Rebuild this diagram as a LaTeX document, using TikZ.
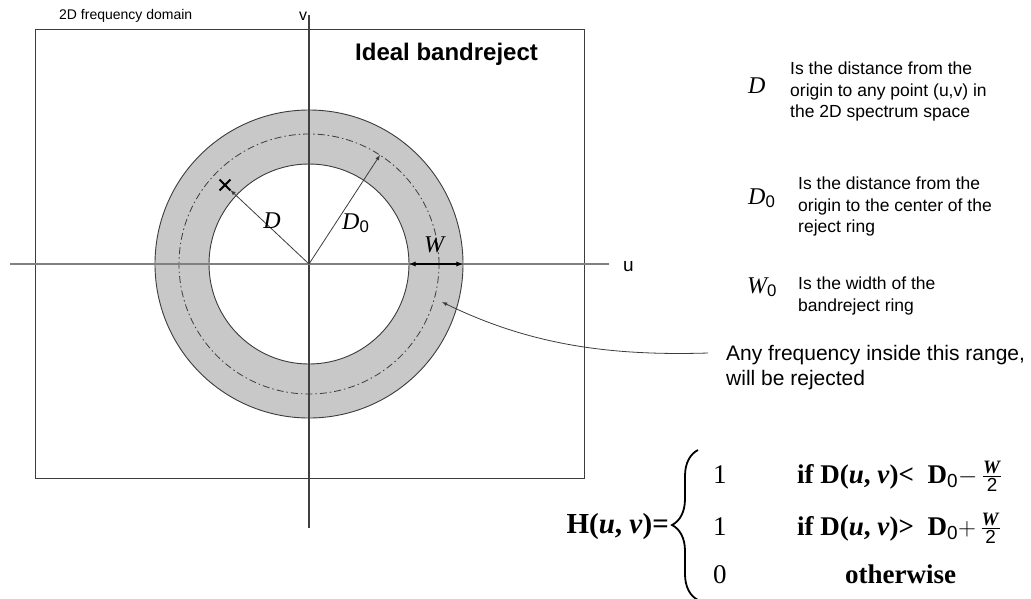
\documentclass[tikz,border=0pt]{standalone}
\usepackage{amsmath}
\usepackage{fontspec}
\setmainfont{Liberation Serif}
\setsansfont{Liberation Sans}
\usetikzlibrary{positioning,decorations.pathreplacing,shapes.misc}
\definecolor{ringgray}{RGB}{200,200,200}
\definecolor{linegray}{RGB}{60,60,60}
\newcommand{\subzero}{\textsubscript{\sffamily\upshape\mdseries 0}}
\newcommand{\halfw}{$\frac{\text{\textit{W}}}{\text{\sffamily\mdseries 2}}$}

\begin{document}
\begin{tikzpicture}[x=1pt, y=-1pt,
    caption/.style={font=\sffamily\fontsize{14}{17}\selectfont, inner sep=0pt},
    legend/.style={font=\sffamily\fontsize{17.5}{21.5}\selectfont, align=left, inner sep=0pt},
    note/.style={font=\sffamily\fontsize{21}{25.5}\selectfont, align=left, inner sep=0pt},
    symbol/.style={font=\fontsize{24}{28}\selectfont\itshape, inner sep=0pt},
    formula/.style={font=\fontsize{27}{31}\selectfont\bfseries, inner sep=0pt},
    frame/.style={draw=linegray, line width=1pt},
    ringline/.style={draw=linegray, line width=0.9pt},
    pointer/.style={draw=linegray, line width=0.8pt, -latex}
]
    \useasboundingbox (0,0) rectangle (1031,598);

    \draw[frame] (35,29) rectangle (584,478);
    \node[caption, anchor=base west] (domain) at (59,19) {2D frequency domain};
    \node[anchor=base west, inner sep=0pt, font=\sffamily\bfseries\fontsize{24}{28}\selectfont]
        (title) at (355,60) {Ideal bandreject};

    \coordinate (O) at (309,264);
    \fill[ringgray, even odd rule] (O) circle[radius=154pt] (O) circle[radius=100pt];
    \draw[ringline] (O) circle[radius=154pt];
    \draw[ringline] (O) circle[radius=100pt];
    \draw[draw=linegray, line width=0.8pt, dash pattern=on 7pt off 3pt on 1.5pt off 3pt]
        (O) circle[radius=130pt];

    \coordinate (vtop) at (309,15);
    \coordinate (vbot) at (309,528);
    \coordinate (uleft) at (10,264);
    \coordinate (uright) at (609,264);
    \draw[black!75, line width=1.1pt] (vtop) -- (vbot);
    \draw[black!50, line width=1.6pt] (uleft) -- (uright);
    \node[caption, anchor=base, font=\sffamily\fontsize{16}{19}\selectfont] (vlabel) at (303,20) {v};
    \node[caption, anchor=base west, font=\sffamily\fontsize{19}{22}\selectfont] (ulabel) at (623,271) {u};

    \node[draw, cross out, line width=1.8pt, minimum size=9pt, inner sep=0pt] (xmark) at (225,185) {};
    \coordinate (d0tip) at (380,155);
    \coordinate (win) at (409,264);
    \coordinate (wout) at (463,264);
    \draw[pointer] (O) -- (xmark);
    \draw[pointer] (O) -- (d0tip);
    \draw[draw=black, line width=1.3pt, latex-latex] (win) -- (wout);

    \node[symbol, anchor=base] (dlabel) at (272,228) {D};
    \node[symbol, anchor=base west] (d0label) at (342,229) {D\subzero};
    \node[symbol, anchor=base west] (wlabel) at (424,252) {W};

    \node[symbol, anchor=base west] (dsym) at (748,93) {D};
    \node[legend, anchor=north west] (dtext) at (790,62)
        {Is the distance from the\\origin to any point (u,v) in\\the 2D spectrum space};
    \node[symbol, anchor=base west] (d0sym) at (748,204) {D\subzero};
    \node[legend, anchor=north west] (d0text) at (798,177)
        {Is the distance from the\\origin to the center of the\\reject ring};
    \node[symbol, anchor=base west] (w0sym) at (747,293) {W\subzero};
    \node[legend, anchor=north west] (w0text) at (798,277)
        {Is the width of the\\bandreject ring};

    \node[note, anchor=north west] (range) at (726,345)
        {Any frequency inside this range,\\will be rejected};
    \coordinate (tail) at (708,353);
    \coordinate (tip) at (442,302);
    \draw[pointer] (tail) .. controls (610,356) and (530,345) .. (tip);

    \node[formula, anchor=base east, font=\fontsize{29}{33}\selectfont\bfseries] (hdef) at (669,533)
        {H(\textit{u}, \textit{v})=};
    \draw[line width=1.8pt, decorate, decoration={brace, amplitude=26pt}]
        (698,600) -- (698,450);
    \node[formula, anchor=base west] (one1) at (713,483) {\mdseries 1};
    \node[formula, anchor=base west] (cond1) at (797,483)
        {if D(\textit{u}, \textit{v})<\enspace D\subzero$-$\,\halfw};
    \node[formula, anchor=base west] (one2) at (713,535) {\mdseries 1};
    \node[formula, anchor=base west] (cond2) at (797,535)
        {if D(\textit{u}, \textit{v})>\enspace D\subzero$+$\,\halfw};
    \node[formula, anchor=base west] (zero3) at (713,583) {\mdseries 0};
    \node[formula, anchor=base west] (other) at (845,583) {otherwise};
\end{tikzpicture}
\end{document}
